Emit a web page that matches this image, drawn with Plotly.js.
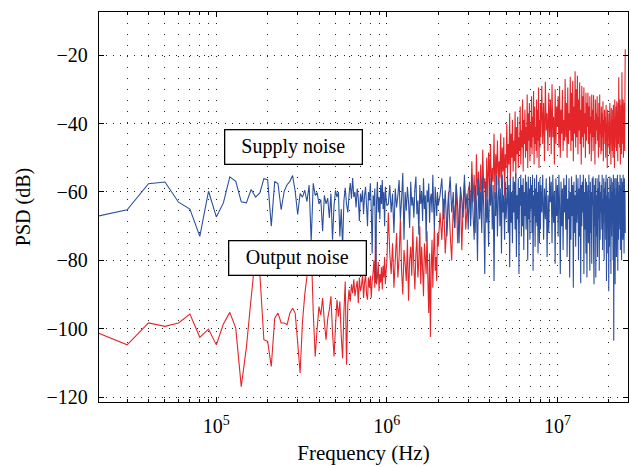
<!DOCTYPE html>
<html>
<head>
<meta charset="utf-8">
<script src="https://cdn.plot.ly/plotly-3.0.1.min.js"></script>
<style>html,body{margin:0;padding:0;background:#fff;}#chart{width:631px;height:467px;}</style>
</head>
<body>
<div id="chart"></div>
<script>
// Frequency grid segments (FFT bins, Hz): start, step, count
const segStart = [2e4, 1.02e6, 2.05e6, 3.05e6, 8.1e6];
const segStep  = [1e4, 2e4, 5e4, 5e4, 1e5];
const segCount = [99, 50, 20, 100, 170];

// Supply noise (blue), dB
const supplyA = [
 -67.1,-65.2,-57.6,-57.1,-63.0,-65.0,-73.0,-59.8,-67.3,-63.2,-55.6,-56.9,-62.9,-63.2,-59.3,-61.5,-60.3,-56.1,-56.4,-70.0,
 -56.9,-57.6,-65.2,-59.8,-57.9,-56.9,-55.2,-59.8,-66.6,
 -60.5,-61.5,-59.5,-62.8,-58.0,-74.5,-57.5,-61.0,-60.2,-63.5,
 -62.2,-71.5,-61.0,-63.5,-61.8,-67.6,-60.5,-74.0,-64.0,-59.5,-61.5,-60.0,-73.0,-65.0,-76.4,-62.5,-58.8,-63.5,-66.0,-61.0,
 -57.4,-62.0,-55.9,-61.5,-60.0,-64.5,-59.0,-62.0,-68.5,-60.5,-63.0,-59.5,-66.5,-61.0,-58.5,-64.0,-70.0,-60.0,-62.5,-57.5,
 -65.0,-78.0,-61.0,-64.0,-59.0,-86.6,-63.0,-57.0,-66.0,-61.5,-68.0,-58.0,-63.5,-56.5,-65.0,-60.0,-70.0,-58.5,-62.0,-64.0
];
const supplyB = [
 -63.5,-58.0,-66.0,-60.5,-72.0,-59.0,-64.5,-61.0,-56.5,-68.0,
 -62.0,-54.5,-74.0,-60.0,-65.5,-58.5,-63.0,-70.5,-57.0,-64.0,
 -61.5,-67.5,-59.0,-55.5,-66.5,-62.5,-72.5,-58.0,-63.5,-60.0,
 -68.5,-56.0,-65.0,-61.0,-74.5,-59.5,-63.0,-57.5,-69.0,-62.0,
 -60.5,-66.0,-55.0,-64.5,-71.0,-58.5,-62.5,-67.0,-60.0,-64.0
];
const supplyC = [
 -61.0,-56.0,-68.0,-59.5,-73.0,-62.0,-55.5,-66.0,-60.0,-70.5,
 -57.5,-64.0,-75.0,-58.5,-62.5,-67.5,-55.0,-65.0,-60.5,-71.0
];
const supplyD1 = [
 -57,-70,-55,-66,-74,-58,-63,-80,-56,-68,
 -60,-72,-55.5,-65,-84,-57,-69,-62,-76,-56,
 -64,-55,-71,-58,-86,-60,-67,-55,-73,-62,
 -56,-70,-59,-78,-55,-66,-61,-74,-57,-68,
 -63,-55,-72,-58,-82,-56,-69,-60,-75,-55.5,
 -66,-57,-71,-54.5,-79,-61,-68,-56,-84,-59,
 -64,-55,-73,-58,-70,-56,-77,-60,-67,-55,
 -71,-57,-62,-80,-55.5,-68,-59,-74,-56,-65,
 -58,-72,-55,-83,-61,-67,-56,-76,-59,-69,
 -55,-70,-60,-78,-57,-64,-75,-56,-71,-58
];
const supplyD2 = [
 -66,-55,-74,-59,-68,-56,-79,-61,-72,-55.5,
 -63,-57,-75,-55,-69,-60,-81,-56,-67,-58,
 -73,-55,-64,-84,-57,-70,-59,-77,-56,-66,
 -58,-71,-55,-79,-62,-68,-56,-85,-60,-74,
 -55.5,-67,-58,-88,-57,-72,-61,-76,-55,-69,
 -63,-56,-80,-59,-73,-55,-86.7,-58,-70,-57,
 -66,-55,-84,-60,-71,-56,-78,-57,-85,-62,
 -58,-75,-55,-69,-83,-57,-72,-60,-81,-56,
 -64,-55.5,-77,-87,-58,-70,-56,-85,-61,-73,
 -56,-79,-59,-68,-55,-83,-57,-74,-60,-66,
 -58,-71,-55,-77,-62,-69,-56,-80,-59,-65,
 -57,-74,-55,-86,-61,-78,-56,-67,-60,-89,
 -62,-76,-55.5,-70,-58,-84,-56,-73,-60,-68,
 -57,-80,-55,-103.5,-59,-71,-56,-87,-61,-75,
 -56,-79,-59,-68,-55,-83,-57,-74,-60,-66,
 -58,-71,-55,-77,-62,-69,-56,-80,-59,-65,
 -57,-74,-55,-70,-61,-78,-56,-67,-60,-72
];

// Output noise (red), dB
const outputA = [
 -101.1,-104.7,-98.3,-99.3,-98.3,-95.7,-102.5,-100.1,-104.7,-98.6,-95.2,-99.8,-116.9,-105.5,-91.0,-78.0,-84.0,-103.2,-103.7,-111.0,
 -96.9,-95.4,-98.3,-98.3,-98.8,-95.4,-94.0,-95.4,-104.0,
 -112.9,-98.0,-90.0,-84.7,-80.0,-76.0,-95.0,-108.1,-100.0,-93.5,
 -96.0,-91.0,-98.0,-103.2,-97.0,-94.4,-90.5,-101.0,-108.1,-99.0,-91.5,-96.5,-92.0,-102.0,-108.6,-95.0,-86.2,-110.5,-93.0,-88.5,
 -92.0,-87.0,-89.6,-85.5,-90.5,-88.0,-86.0,-92.5,-85.0,-89.0,-87.5,-84.0,-91.0,-86.5,-83.7,-90.0,-91.5,-85.0,-88.0,-84.5,
 -91.0,-86.0,-83.7,-80.0,-88.0,-71.0,-87.0,-85.0,-80.5,-89.0,-84.0,-86.5,-82.0,-88.5,-81.6,-85.0,-79.0,-87.0,-83.0,-80.5
];
const outputB = [
 -66.0,-78.0,-84.0,-75.0,-88.0,-80.0,-72.0,-85.0,-79.0,-67.8,
 -83.0,-90.0,-77.0,-81.0,-86.0,-74.0,-91.8,-80.0,-76.0,-84.5,
 -70.0,-82.0,-88.5,-78.0,-73.0,-85.0,-80.0,-70.0,-87.0,-76.0,
 -82.5,-90.5,-75.0,-79.0,-84.0,-71.5,-86.0,-95.4,-78.0,-102.4,
 -82.0,-74.0,-88.0,-77.0,-70.5,-83.0,-79.0,-86.0,-72.0,-76.0
];
const outputC = [
 -66.0,-74.0,-62.0,-78.0,-69.0,-60.0,-72.0,-80.0,-64.0,-70.5,
 -58.0,-75.0,-66.5,-61.0,-77.0,-63.0,-57.0,-71.0,-65.0,-59.5
];
const outputD1 = [
 -58,-68,-51,-63,-55,-72,-49,-61,-54,-66,
 -52,-64,-47.7,-59,-56,-67,-50,-62,-48.5,-58,
 -46,-60,-53,-57,-43,-62,-49,-55,-45,-58,
 -51,-56,-42.9,-59,-47,-54,-44,-61,-49,-53,
 -40,-55,-46,-52,-37,-57,-43,-50,-39,-54,
 -45,-51,-36.5,-56,-41,-49,-38,-53,-44,-48,
 -35,-52,-42,-47,-33,-54,-39,-46,-36,-50,
 -41,-48,-31.5,-53,-37,-45,-34,-51,-40,-47,
 -32,-49,-38,-44,-30.5,-52,-35,-46,-41,-48,
 -33,-50,-36,-45,-29.5,-53,-39,-47,-34,-44
];
const outputD2 = [
 -29,-46,-34,-51,-27.8,-42,-37,-48,-31,-44,
 -33,-49,-28.5,-44,-38,-52,-30,-46,-35,-41,
 -32,-47,-29,-50,-36,-43,-30.2,-48,-39,-45,
 -27,-44,-34,-50,-29.5,-46,-37,-42,-26.3,-48,
 -31,-45,-27.5,-51,-35,-43,-24.7,-47,-30,-44,
 -26,-49,-33,-42,-28,-46,-36,-52,-29,-44,
 -32,-47,-29.5,-43,-37,-50,-31,-45,-34,-41,
 -31,-46,-35,-49,-32,-43,-38,-51,-31.5,-44,
 -36,-48,-31.7,-44,-39,-52,-33,-46,-37,-42,
 -32,-45,-38,-50,-34,-47,-31.5,-43,-40,-49,
 -35,-48,-37,-44,-33.5,-51,-39,-46,-36,-42,
 -38,-50,-34.6,-45,-40,-53,-36,-47,-41,-44,
 -37,-49,-34,-46,-42,-52,-35.5,-44,-39,-48,
 -36,-50,-34.5,-45,-40,-53,-33,-47,-38,-44,
 -35,-48,-33.5,-43,-39,-51,-34,-46,-26.5,-44,
 -36,-47,-33,-52,-38,-45,-34.5,-49,-25,-42,
 -35,-46,-33,-50,-37,-44,-34,-48,-30,-18.3
];

const yTicks = [-120, -100, -80, -60, -40, -20];
const xTicks = [1e5, 1e6, 1e7];
const xTickText = ['10<sup>5</sup>', '10<sup>6</sup>', '10<sup>7</sup>'];
const xMinor = [2e4,3e4,4e4,5e4,6e4,7e4,8e4,9e4,2e5,3e5,4e5,5e5,6e5,7e5,8e5,9e5,2e6,3e6,4e6,5e6,6e6,7e6,8e6,9e6,2e7];

// build the bin frequencies
const freq = [];
for (let s = 0; s < segStart.length; s++) {
  for (let i = 0; i < segCount[s]; i++) freq.push(segStart[s] + i * segStep[s]);
}
const supply = [].concat(supplyA, supplyB, supplyC, supplyD1, supplyD2);
const output = [].concat(outputA, outputB, outputC, outputD1, outputD2);

const FONT = 'Liberation Serif, Times New Roman, serif';

const traces = [
  {x: freq, y: output, type: 'scatter', mode: 'lines', name: 'Output noise',
   line: {color: 'rgb(228,38,42)', width: 1.1, simplify: false}},
  {x: freq, y: supply, type: 'scatter', mode: 'lines', name: 'Supply noise',
   line: {color: 'rgb(44,80,158)', width: 1.1, simplify: false}}
];

const layout = {
  width: 631, height: 467,
  margin: {l: 99, r: 3, t: 12, b: 65},
  paper_bgcolor: '#fff', plot_bgcolor: '#fff',
  showlegend: false,
  font: {family: FONT, size: 20, color: '#000'},
  xaxis: {
    type: 'log', range: [4.312, 7.414],
    tickmode: 'array', tickvals: xTicks, ticktext: xTickText,
    ticks: 'inside', ticklen: 5, tickcolor: '#000', tickwidth: 1,
    showline: true, linecolor: '#000', linewidth: 1.2, mirror: 'ticks',
    showgrid: true, gridcolor: '#222', gridwidth: 1, griddash: '1px,10px',
    minor: {tickmode: 'array', tickvals: xMinor, ticks: 'inside', ticklen: 3, tickcolor: '#000',
            showgrid: true, gridcolor: '#222', gridwidth: 1, griddash: '1px,10px'},
    zeroline: false,
    tickfont: {family: FONT, size: 20},
    ticklabelstandoff: 6,
    title: {text: 'Frequency (Hz)', font: {family: FONT, size: 21}, standoff: 9}
  },
  yaxis: {
    range: [-121.4, -7.4],
    tickmode: 'array', tickvals: yTicks,
    ticks: 'inside', ticklen: 5, tickcolor: '#000', tickwidth: 1,
    showline: true, linecolor: '#000', linewidth: 1.2, mirror: 'ticks',
    showgrid: true, gridcolor: '#222', gridwidth: 1, griddash: '1px,6px',
    zeroline: false,
    tickfont: {family: FONT, size: 20},
    ticklabelstandoff: 6,
    title: {text: 'PSD (dB)', font: {family: FONT, size: 20}, standoff: 10}
  },
  annotations: [
    {xref: 'x', yref: 'y', x: 5.453, y: -46.8, text: 'Supply noise', showarrow: false,
     font: {family: FONT, size: 20, color: '#000'}, bgcolor: '#fff', bordercolor: '#000',
     borderwidth: 1.3, borderpad: 0, width: 136, height: 33},
    {xref: 'x', yref: 'y', x: 5.477, y: -79.3, text: 'Output noise', showarrow: false,
     font: {family: FONT, size: 20, color: '#000'}, bgcolor: '#fff', bordercolor: '#000',
     borderwidth: 1.3, borderpad: 0, width: 136, height: 33}
  ]
};

Plotly.newPlot('chart', traces, layout, {displayModeBar: false, staticPlot: true});
</script>
</body>
</html>
